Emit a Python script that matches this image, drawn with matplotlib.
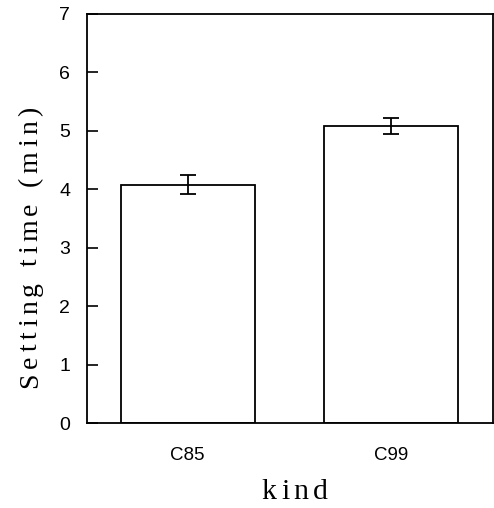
import matplotlib.pyplot as plt
from matplotlib import font_manager
from matplotlib.font_manager import FontProperties
from matplotlib.ft2font import FT2Font, LoadFlags
from matplotlib.transforms import offset_copy

kinds = ['C85', 'C99']
setting_time = [4.08, 5.08]
setting_err = [0.16, 0.13]
y_ticks = [0, 1, 2, 3, 4, 5, 6, 7]

serif = FontProperties(family='Liberation Serif')


def advances(text, size):
    # per-glyph advance widths in points
    font = FT2Font(font_manager.findfont(serif))
    font.set_size(size, 72)
    return [font.load_char(ord(c), flags=LoadFlags.NO_HINTING).linearHoriAdvance / 65536 for c in text]


def tracked_text(ax, text, x, y, size, tracking, vertical=False):
    # draw a label with loose letter spacing, centred on (x, y) in axes coords
    adv = advances(text, size)
    total = sum(adv) + tracking * (len(text) - 1)
    pos = -total / 2
    for c, a in zip(text, adv):
        if vertical:
            tr = offset_copy(ax.transAxes, fig=ax.figure, x=0, y=pos, units='points')
            ax.text(x, y, c, transform=tr, rotation=90, rotation_mode='anchor',
                    ha='left', va='baseline', fontproperties=serif, fontsize=size)
        else:
            tr = offset_copy(ax.transAxes, fig=ax.figure, x=pos, y=0, units='points')
            ax.text(x, y, c, transform=tr, ha='left', va='baseline',
                    fontproperties=serif, fontsize=size)
        pos += a + tracking


fig = plt.figure(figsize=(4.94, 5.08), dpi=100)
ax = fig.add_axes([0.176, 0.167, 0.822, 0.806])

x = range(len(kinds))
ax.bar(x, setting_time, width=0.66, color='white', edgecolor='black', linewidth=1.3,
       yerr=setting_err, capsize=6, error_kw=dict(elinewidth=1.3, capthick=1.3, ecolor='black'))

ax.set_xlim(-0.495, 1.5)
ax.set_ylim(0, 7)
ax.set_yticks(y_ticks)
ax.set_xticks(list(x))
ax.set_xticklabels(kinds, family='Liberation Sans', fontsize=13.5)
ax.set_yticklabels([str(t) for t in y_ticks], family='Liberation Sans', fontsize=14)
ax.tick_params(axis='y', direction='in', length=8, width=1.2, pad=12)
ax.tick_params(axis='x', length=0, pad=17)
for s in ax.spines.values():
    s.set_linewidth(1.3)

tracked_text(ax, 'Setting time (min)', -0.123, 0.43, 20, 3.3, vertical=True)
tracked_text(ax, 'kind', 0.512, -0.185, 21.5, 3.2)

fig.savefig('out.png', dpi=100)
